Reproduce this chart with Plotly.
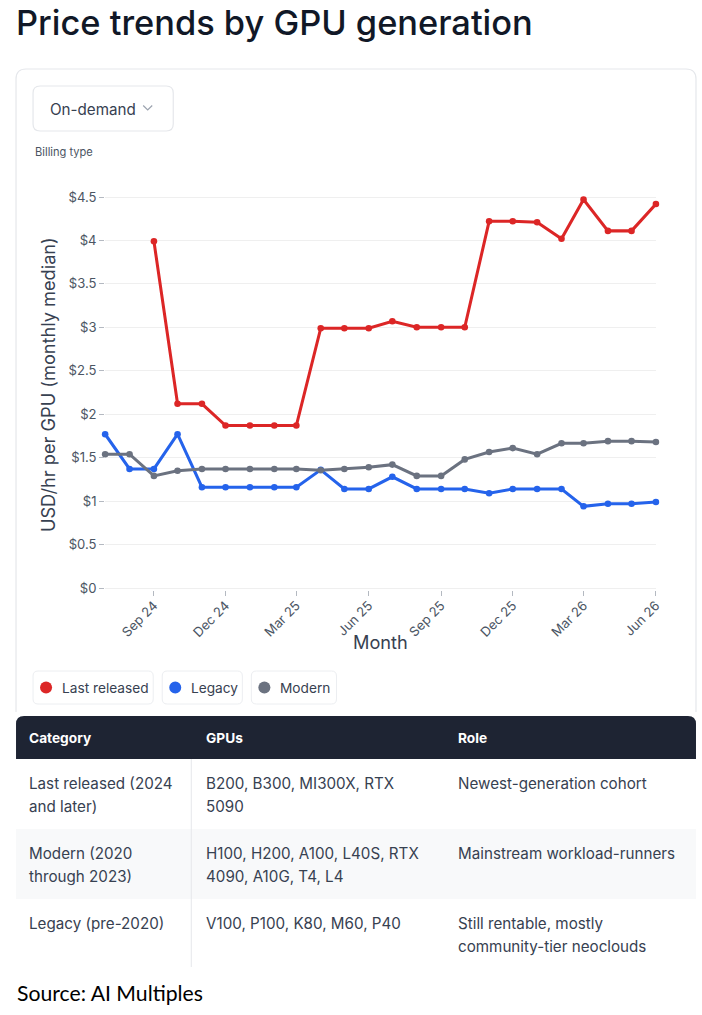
import plotly.graph_objects as go

W, H = 702, 1015          # target picture size, all positions below are in these pixels
FIG_W, FIG_H = 710, 1021  # page gets shrunk a little when photographed
FS = FIG_W / W

# monthly median USD/hr per GPU, Jul 2024 .. Jun 2026
months = ["2024-07-01", "2024-08-01", "2024-09-01", "2024-10-01", "2024-11-01", "2024-12-01",
          "2025-01-01", "2025-02-01", "2025-03-01", "2025-04-01", "2025-05-01", "2025-06-01",
          "2025-07-01", "2025-08-01", "2025-09-01", "2025-10-01", "2025-11-01", "2025-12-01",
          "2026-01-01", "2026-02-01", "2026-03-01", "2026-04-01", "2026-05-01", "2026-06-01"]

last_released = [None, None, 3.99, 2.12, 2.12, 1.87, 1.87, 1.87, 1.87, 2.99, 2.99, 2.99,
                 3.07, 3.00, 3.00, 3.00, 4.22, 4.22, 4.21, 4.02, 4.47, 4.11, 4.11, 4.42]
legacy = [1.77, 1.37, 1.37, 1.77, 1.16, 1.16, 1.16, 1.16, 1.16, 1.36, 1.14, 1.14,
          1.28, 1.14, 1.14, 1.14, 1.09, 1.14, 1.14, 1.14, 0.94, 0.97, 0.97, 0.99]
modern = [1.54, 1.54, 1.29, 1.35, 1.37, 1.37, 1.37, 1.37, 1.37, 1.355, 1.37, 1.39,
          1.42, 1.29, 1.29, 1.48, 1.565, 1.61, 1.54, 1.665, 1.665, 1.69, 1.69, 1.68]

series_names = ["Last released", "Legacy", "Modern"]
series_colors = ["#dc2626", "#2563eb", "#6b7280"]

table_header = ["Category", "GPUs", "Role"]
table_rows = [
    ["Last released (2024<br>and later)", "B200, B300, MI300X, RTX<br>5090", "Newest-generation cohort"],
    ["Modern (2020<br>through 2023)", "H100, H200, A100, L40S, RTX<br>4090, A10G, T4, L4", "Mainstream workload-runners"],
    ["Legacy (pre-2020)", "V100, P100, K80, M60, P40", "Still rentable, mostly<br>community-tier neoclouds"],
]

FONT = "Inter, Roboto, sans-serif"
TEXT = "#374151"


def px(x):
    return x / W


def py(y):
    return 1 - y / H


def fnt(size, color=TEXT, family=FONT, **kw):
    return dict(family=family, size=round(size * FS, 1), color=color, **kw)


def rounded(x0, y0, x1, y1, r):
    return (f"M{px(x0+r)},{py(y0)} L{px(x1-r)},{py(y0)} Q{px(x1)},{py(y0)} {px(x1)},{py(y0+r)} "
            f"L{px(x1)},{py(y1-r)} Q{px(x1)},{py(y1)} {px(x1-r)},{py(y1)} L{px(x0+r)},{py(y1)} "
            f"Q{px(x0)},{py(y1)} {px(x0)},{py(y1-r)} L{px(x0)},{py(y0+r)} Q{px(x0)},{py(y0)} {px(x0+r)},{py(y0)} Z")


def note(text, x, y, font, anchor="left"):
    return dict(text=text, x=px(x), y=py(y), xref="paper", yref="paper",
                xanchor=anchor, yanchor="middle", showarrow=False, font=font)


fig = go.Figure()
for name, vals, col in zip(series_names, [last_released, legacy, modern], series_colors):
    fig.add_trace(go.Scatter(
        x=months, y=vals, name=name, mode="lines+markers",
        line=dict(color=col, width=3 * FS), marker=dict(color=col, size=6.5 * FS),
        cliponaxis=False, connectgaps=False, showlegend=False
    ))

# plot area in pixels: $0 at y=588, $4.5 at y=197
per_dollar = (588 - 197) / 4.5
y_lo, y_hi = -0.02, 4.7
top_px = 588 - (y_hi - 0) * per_dollar
bot_px = 588 + (0 - y_lo) * per_dollar

shapes = []
annotations = []

# card outline (open at the bottom)
shapes.append(dict(type="path", xref="paper", yref="paper",
                   path=f"M{px(16)},{py(712)} L{px(16)},{py(79)} Q{px(16)},{py(69)} {px(26)},{py(69)} "
                        f"L{px(685)},{py(69)} Q{px(695)},{py(69)} {px(695)},{py(79)} L{px(695)},{py(712)}",
                   line=dict(color="#e5e7eb", width=1.2), layer="below"))

# dropdown
shapes.append(dict(type="path", xref="paper", yref="paper", path=rounded(33, 86, 173, 131, 7),
                   line=dict(color="#e5e7eb", width=1.2), fillcolor="white", layer="below"))
shapes.append(dict(type="path", xref="paper", yref="paper",
                   path=f"M{px(143)},{py(105.5)} L{px(147.5)},{py(110)} L{px(152)},{py(105.5)}",
                   line=dict(color="#9ca3af", width=1.2)))
annotations.append(note("On-demand", 48, 109, fnt(15)))
annotations.append(note("Billing type", 33, 152, fnt(11, "#4b5563")))

# legend chips
chips = [(33, 153), (162, 242), (251, 336)]
for (x0, x1), name, col in zip(chips, series_names, series_colors):
    shapes.append(dict(type="path", xref="paper", yref="paper", path=rounded(x0, 671, x1, 704, 5),
                       line=dict(color="#eceef1", width=1), fillcolor="white", layer="below"))
    shapes.append(dict(type="circle", xref="paper", yref="paper",
                       x0=px(x0 + 7), x1=px(x0 + 19), y0=py(681.5), y1=py(693.5),
                       fillcolor=col, line=dict(width=0)))
    annotations.append(note(name, x0 + 27, 687.5, fnt(13.5)))

# x axis title
annotations.append(note("Month", 380, 642, fnt(18), anchor="center"))

# table
shapes.append(dict(type="path", xref="paper", yref="paper",
                   path=f"M{px(16)},{py(759)} L{px(16)},{py(724)} Q{px(16)},{py(716)} {px(24)},{py(716)} "
                        f"L{px(687)},{py(716)} Q{px(695)},{py(716)} {px(695)},{py(724)} L{px(695)},{py(759)} Z",
                   line=dict(width=0), fillcolor="#1e2433", layer="below"))
shapes.append(dict(type="rect", xref="paper", yref="paper",
                   x0=px(16), x1=px(695), y0=py(829), y1=py(899),
                   line=dict(width=0), fillcolor="#f8f9fa", layer="below"))
shapes.append(dict(type="line", xref="paper", yref="paper",
                   x0=px(191), x1=px(191), y0=py(759), y1=py(967),
                   line=dict(color="#e5e7eb", width=1)))

col_x = [27, 204, 455]
for cx, head in zip(col_x, table_header):
    annotations.append(note(f"<b>{head}</b>", cx, 737.5, fnt(13.5, "white")))
row_y = [783, 853, 923]
for ry, row in zip(row_y, table_rows):
    for cx, cell in zip(col_x, row):
        for k, line in enumerate(cell.split("<br>")):
            annotations.append(note(line, cx, ry + 23.5 * k, fnt(15)))

# page title and source
annotations.append(note("Price trends by GPU generation", 14, 23, fnt(34, "#111827", weight=500)))
annotations.append(note("Source: AI Multiples", 15, 993, fnt(21, "black", family="Lato, sans-serif")))

fig.update_layout(
    width=FIG_W, height=FIG_H, margin=dict(l=0, r=0, t=0, b=0),
    paper_bgcolor="white", plot_bgcolor="white",
    font=dict(family=FONT, color=TEXT),
    shapes=shapes, annotations=annotations,
    xaxis=dict(
        domain=[px(105), px(655)], range=["2024-07-01", "2026-06-01"],
        tickformat="%b %y", dtick="M3", tick0="2024-09-01", tickangle=-45,
        ticks="outside", ticklen=5, tickcolor="#b4b9c1", ticklabelstandoff=-3,
        showgrid=False, zeroline=False, showline=False,
        tickfont=fnt(13, "#4b5563"),
    ),
    yaxis=dict(
        domain=[py(bot_px), py(top_px)], range=[y_lo, y_hi],
        dtick=0.5, tickprefix="$", ticks="outside", ticklen=5, tickcolor="#b4b9c1",
        showgrid=True, gridcolor="#efefef", zeroline=False, showline=False,
        tickfont=fnt(13, "#4b5563"),
        title=dict(text="USD/hr per GPU (monthly median)", font=fnt(18), standoff=8),
    ),
)

fig.write_html(
    "out.html",
    config={"displayModeBar": False},
    post_script="document.documentElement.style.overflow='hidden';"
                "document.body.style.margin='0';document.body.style.overflow='hidden';",
)
